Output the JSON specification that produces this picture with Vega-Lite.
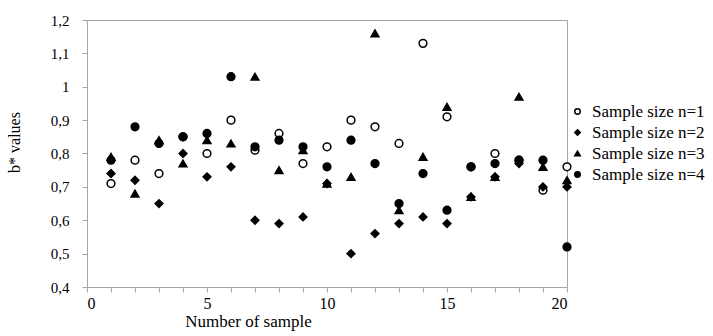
{
  "$schema": "https://vega.github.io/schema/vega-lite/v6.json",
  "width": 480,
  "height": 267,
  "autosize": {"type": "none"},
  "padding": {"left": 87, "top": 20, "right": 146, "bottom": 49},
  "background": "white",
  "config": {
    "view": {"stroke": "#a6a6a6", "strokeWidth": 1}
  },
  "data": {
    "values": [
      {"s": "Sample size n=1", "x": 1, "v": 0.71}, {"s": "Sample size n=1", "x": 2, "v": 0.78}, {"s": "Sample size n=1", "x": 3, "v": 0.74}, {"s": "Sample size n=1", "x": 4, "v": 0.85}, {"s": "Sample size n=1", "x": 5, "v": 0.80},
      {"s": "Sample size n=1", "x": 6, "v": 0.90}, {"s": "Sample size n=1", "x": 7, "v": 0.81}, {"s": "Sample size n=1", "x": 8, "v": 0.86}, {"s": "Sample size n=1", "x": 9, "v": 0.77}, {"s": "Sample size n=1", "x": 10, "v": 0.82},
      {"s": "Sample size n=1", "x": 11, "v": 0.90}, {"s": "Sample size n=1", "x": 12, "v": 0.88}, {"s": "Sample size n=1", "x": 13, "v": 0.83}, {"s": "Sample size n=1", "x": 14, "v": 1.13}, {"s": "Sample size n=1", "x": 15, "v": 0.91},
      {"s": "Sample size n=1", "x": 16, "v": 0.76}, {"s": "Sample size n=1", "x": 17, "v": 0.80}, {"s": "Sample size n=1", "x": 18, "v": 0.78}, {"s": "Sample size n=1", "x": 19, "v": 0.69}, {"s": "Sample size n=1", "x": 20, "v": 0.76},
      {"s": "Sample size n=2", "x": 1, "v": 0.74}, {"s": "Sample size n=2", "x": 2, "v": 0.72}, {"s": "Sample size n=2", "x": 3, "v": 0.65}, {"s": "Sample size n=2", "x": 4, "v": 0.80}, {"s": "Sample size n=2", "x": 5, "v": 0.73},
      {"s": "Sample size n=2", "x": 6, "v": 0.76}, {"s": "Sample size n=2", "x": 7, "v": 0.60}, {"s": "Sample size n=2", "x": 8, "v": 0.59}, {"s": "Sample size n=2", "x": 9, "v": 0.61}, {"s": "Sample size n=2", "x": 10, "v": 0.71},
      {"s": "Sample size n=2", "x": 11, "v": 0.50}, {"s": "Sample size n=2", "x": 12, "v": 0.56}, {"s": "Sample size n=2", "x": 13, "v": 0.59}, {"s": "Sample size n=2", "x": 14, "v": 0.61}, {"s": "Sample size n=2", "x": 15, "v": 0.59},
      {"s": "Sample size n=2", "x": 16, "v": 0.67}, {"s": "Sample size n=2", "x": 17, "v": 0.73}, {"s": "Sample size n=2", "x": 18, "v": 0.77}, {"s": "Sample size n=2", "x": 19, "v": 0.70}, {"s": "Sample size n=2", "x": 20, "v": 0.70},
      {"s": "Sample size n=3", "x": 1, "v": 0.79}, {"s": "Sample size n=3", "x": 2, "v": 0.68}, {"s": "Sample size n=3", "x": 3, "v": 0.84}, {"s": "Sample size n=3", "x": 4, "v": 0.77}, {"s": "Sample size n=3", "x": 5, "v": 0.84},
      {"s": "Sample size n=3", "x": 6, "v": 0.83}, {"s": "Sample size n=3", "x": 7, "v": 1.03}, {"s": "Sample size n=3", "x": 8, "v": 0.75}, {"s": "Sample size n=3", "x": 9, "v": 0.81}, {"s": "Sample size n=3", "x": 10, "v": 0.71},
      {"s": "Sample size n=3", "x": 11, "v": 0.73}, {"s": "Sample size n=3", "x": 12, "v": 1.16}, {"s": "Sample size n=3", "x": 13, "v": 0.63}, {"s": "Sample size n=3", "x": 14, "v": 0.79}, {"s": "Sample size n=3", "x": 15, "v": 0.94},
      {"s": "Sample size n=3", "x": 16, "v": 0.67}, {"s": "Sample size n=3", "x": 17, "v": 0.73}, {"s": "Sample size n=3", "x": 18, "v": 0.97}, {"s": "Sample size n=3", "x": 19, "v": 0.76}, {"s": "Sample size n=3", "x": 20, "v": 0.72},
      {"s": "Sample size n=4", "x": 1, "v": 0.78}, {"s": "Sample size n=4", "x": 2, "v": 0.88}, {"s": "Sample size n=4", "x": 3, "v": 0.83}, {"s": "Sample size n=4", "x": 4, "v": 0.85}, {"s": "Sample size n=4", "x": 5, "v": 0.86},
      {"s": "Sample size n=4", "x": 6, "v": 1.03}, {"s": "Sample size n=4", "x": 7, "v": 0.82}, {"s": "Sample size n=4", "x": 8, "v": 0.84}, {"s": "Sample size n=4", "x": 9, "v": 0.82}, {"s": "Sample size n=4", "x": 10, "v": 0.76},
      {"s": "Sample size n=4", "x": 11, "v": 0.84}, {"s": "Sample size n=4", "x": 12, "v": 0.77}, {"s": "Sample size n=4", "x": 13, "v": 0.65}, {"s": "Sample size n=4", "x": 14, "v": 0.74}, {"s": "Sample size n=4", "x": 15, "v": 0.63},
      {"s": "Sample size n=4", "x": 16, "v": 0.76}, {"s": "Sample size n=4", "x": 17, "v": 0.77}, {"s": "Sample size n=4", "x": 18, "v": 0.78}, {"s": "Sample size n=4", "x": 19, "v": 0.78}, {"s": "Sample size n=4", "x": 20, "v": 0.52}
    ]
  },
  "mark": {"type": "point", "size": 60, "strokeWidth": 1.5, "opacity": 1, "filled": true, "stroke": "black"},
  "encoding": {
    "x": {
      "field": "x", "type": "quantitative",
      "scale": {"domain": [0, 20], "nice": false},
      "axis": {
        "values": [0,1,2,3,4,5,6,7,8,9,10,11,12,13,14,15,16,17,18,19,20],
        "labelExpr": "datum.value % 5 == 0 ? datum.label : ''",
        "grid": false, "domainColor": "#a6a6a6", "tickColor": "#a6a6a6", "tickSize": 5,
        "labelFont": "Liberation Serif", "labelFontSize": 16, "labelColor": "black", "labelPadding": 3,
        "title": "Number of sample", "titleFont": "Liberation Serif", "titleFontSize": 17, "titleFontWeight": "normal", "titleColor": "black",
        "titleX": 161, "titleY": 39, "titleBaseline": "alphabetic", "titleAlign": "center"
      }
    },
    "y": {
      "field": "v", "type": "quantitative",
      "scale": {"domain": [0.4, 1.2], "nice": false, "zero": false},
      "axis": {
        "values": [0.4, 0.5, 0.6, 0.7, 0.8, 0.9, 1.0, 1.1, 1.2],
        "labelExpr": "datum.value == 1 ? '1' : replace(format(datum.value, '.1f'), '.', ',')",
        "grid": false, "domainColor": "#a6a6a6", "tickColor": "#a6a6a6", "tickSize": 5,
        "labelFont": "Liberation Serif", "labelFontSize": 15, "labelColor": "black", "labelPadding": 13,
        "title": "b* values", "titleFont": "Liberation Serif", "titleFontSize": 16, "titleFontWeight": "normal", "titleColor": "black",
        "titleX": -73, "titleY": 122, "titleAngle": 270, "titleAlign": "center", "titleBaseline": "middle"
      }
    },
    "shape": {
      "field": "s", "type": "nominal",
      "scale": {"domain": ["Sample size n=1", "Sample size n=2", "Sample size n=3", "Sample size n=4"], "range": ["circle", "diamond", "triangle-up", "circle"]},
      "legend": {
        "title": null, "orient": "none", "legendX": 482, "legendY": 83,
        "labelFont": "Liberation Serif", "labelFontSize": 17, "labelColor": "black",
        "symbolSize": 30, "rowPadding": 3, "labelOffset": 6,
        "encode": {"symbols": {"update": {"stroke": {"value": "black"}, "strokeWidth": {"value": 1.2}}}}
      }
    },
    "fill": {
      "field": "s", "type": "nominal",
      "scale": {"domain": ["Sample size n=1", "Sample size n=2", "Sample size n=3", "Sample size n=4"], "range": ["white", "black", "black", "black"]},
      "legend": {
        "title": null, "orient": "none", "legendX": 482, "legendY": 83,
        "labelFont": "Liberation Serif", "labelFontSize": 17, "labelColor": "black",
        "symbolSize": 30, "rowPadding": 3, "labelOffset": 6,
        "encode": {"symbols": {"update": {"stroke": {"value": "black"}, "strokeWidth": {"value": 1.2}}}}
      }
    }
  }
}
